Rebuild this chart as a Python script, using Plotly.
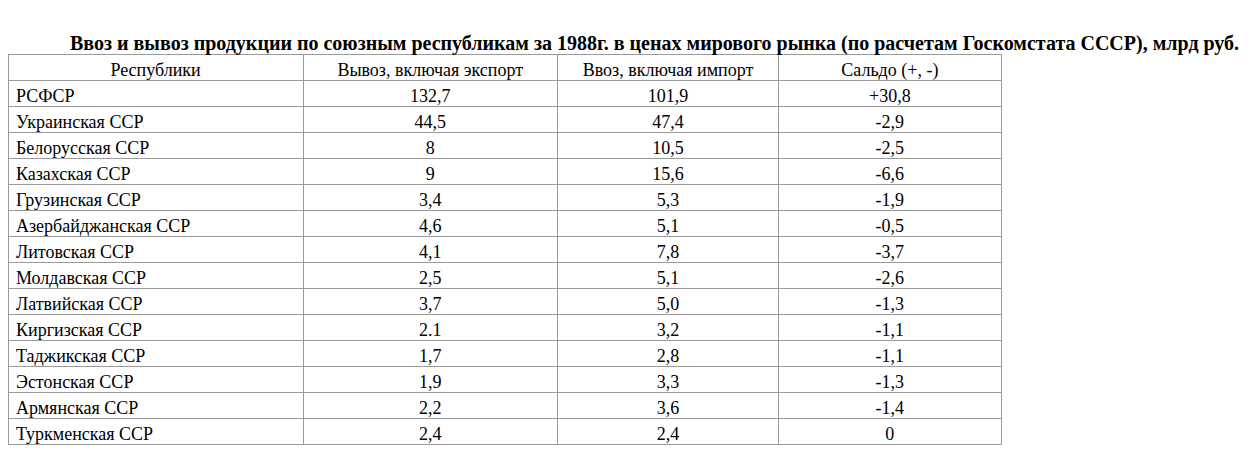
import plotly.graph_objects as go

W, H = 1256, 464

headers = ["Республики", "Вывоз, включая экспорт", "Ввоз, включая импорт", "Сальдо (+, -)"]
republics = ["РСФСР", "Украинская ССР", "Белорусская ССР", "Казахская ССР", "Грузинская ССР",
             "Азербайджанская ССР", "Литовская ССР", "Молдавская ССР", "Латвийская ССР",
             "Киргизская ССР", "Таджикская ССР", "Эстонская ССР", "Армянская ССР", "Туркменская ССР"]
export_vals = ["132,7", "44,5", "8", "9", "3,4", "4,6", "4,1", "2,5", "3,7", "2.1", "1,7", "1,9", "2,2", "2,4"]
import_vals = ["101,9", "47,4", "10,5", "15,6", "5,3", "5,1", "7,8", "5,1", "5,0", "3,2", "2,8", "3,3", "3,6", "2,4"]
balance = ["+30,8", "-2,9", "-2,5", "-6,6", "-1,9", "-0,5", "-3,7", "-2,6", "-1,3", "-1,1", "-1,1", "-1,3", "-1,4", "0"]

FONT = "Liberation Serif, Times New Roman, serif"
LINE = "#9a9a9a"

fig = go.Figure(go.Table(
    domain=dict(x=[0, 993 / W], y=[0, 1 - 46 / H]),
    columnwidth=[296, 255, 222, 223],
    header=dict(
        values=headers,
        align=["center"] * 4,
        font=dict(family=FONT, size=18, color="black"),
        fill_color="white",
        line_color=LINE,
        height=26,
    ),
    cells=dict(
        values=[republics, export_vals, import_vals, balance],
        align=["left", "center", "center", "center"],
        font=dict(family=FONT, size=18, color="black"),
        fill_color="white",
        line_color=LINE,
        height=26,
    ),
))

fig.add_annotation(
    text="<b>Ввоз и вывоз продукции по союзным республикам за 1988г. в ценах мирового рынка "
         "(по расчетам Госкомстата СССР), млрд руб.</b>",
    x=646 / W, y=1 - 22 / H, xref="paper", yref="paper",
    showarrow=False, font=dict(family=FONT, size=20, color="black"),
)

fig.update_layout(
    width=W, height=H,
    margin=dict(l=0, r=0, t=0, b=0),
    paper_bgcolor="white",
    plot_bgcolor="white",
)

fig.write_html("out.html")
